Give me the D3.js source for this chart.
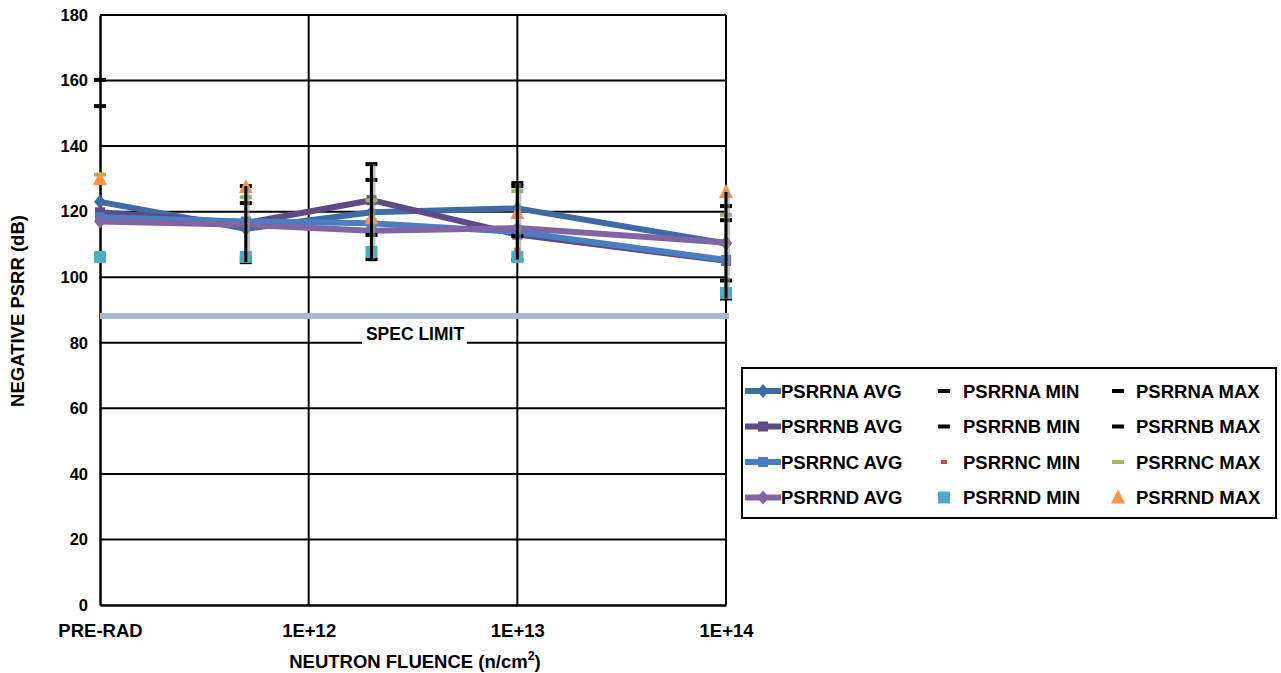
<!DOCTYPE html>
<html><head><meta charset="utf-8">
<script src="https://cdn.jsdelivr.net/npm/d3@7"></script>
<style>body{margin:0;background:#fff;} svg{display:block;font-family:"Liberation Sans",Arial,sans-serif;font-weight:bold;}</style>
</head><body>
<svg id="chart" width="1281" height="673"></svg>
<script>
// ---- data ----
const fluence = [1e11, 5e11, 2e12, 1e13, 1e14];
const xTickValues = [1e11, 1e12, 1e13, 1e14];
const xTickLabels = ["PRE-RAD", "1E+12", "1E+13", "1E+14"];
const yTickValues = [0, 20, 40, 60, 80, 100, 120, 140, 160, 180];

const psrrnaAvg = [123.0, 114.8, 119.8, 121.0, 110.3];
const psrrnbAvg = [119.8, 116.5, 123.5, 113.0, 105.0];
const psrrncAvg = [118.3, 117.0, 116.5, 113.8, 105.3];
const psrrndAvg = [117.0, 116.0, 114.2, 115.0, 110.6];

const psrrnaMin = [106.6, 104.6, 112.9, 112.6, 99.0];
const psrrnaMax = [160.2, 127.8, 134.5, 128.7, 121.7];
const psrrnbMin = [106.3, 106.0, 105.5, 105.4, 93.5];
const psrrnbMax = [152.2, 122.6, 129.7, 127.8, 117.4];
const psrrncMin = [106.4, 106.3, 107.6, 108.4, 95.4];
const psrrncMax = [131.3, 124.4, 123.5, 126.3, 119.0];
const psrrndMin = [106.2, 106.2, 107.7, 106.2, 95.2];
const psrrndMax = [130.0, 127.5, 118.0, 119.6, 126.0];

const specLimit = 88.2;

const avgSeries = [
  {name:"PSRRNA AVG", values:psrrnaAvg, color:"#3E6BA2", symbol:"diamond"},
  {name:"PSRRNB AVG", values:psrrnbAvg, color:"#5E4B85", symbol:"square"},
  {name:"PSRRNC AVG", values:psrrncAvg, color:"#4A7EC0", symbol:"square"},
  {name:"PSRRND AVG", values:psrrndAvg, color:"#8064A4", symbol:"diamond"}
];
const markerSeries = [
  {name:"PSRRNA MIN", values:psrrnaMin, color:"#000000", symbol:"dash"},
  {name:"PSRRNA MAX", values:psrrnaMax, color:"#000000", symbol:"dash"},
  {name:"PSRRNB MIN", values:psrrnbMin, color:"#000000", symbol:"dash"},
  {name:"PSRRNB MAX", values:psrrnbMax, color:"#000000", symbol:"dash"},
  {name:"PSRRNC MIN", values:psrrncMin, color:"#C0504D", symbol:"smalldash"},
  {name:"PSRRNC MAX", values:psrrncMax, color:"#9BBB59", symbol:"dash"},
  {name:"PSRRND MIN", values:psrrndMin, color:"#4BACC6", symbol:"bigsquare"},
  {name:"PSRRND MAX", values:psrrndMax, color:"#F79646", symbol:"triangle"}
];

// ---- layout ----
const svg = d3.select("#chart");
const L = 100, R = 726, T = 15, B = 605;
const x = d3.scaleLog().domain([1e11, 1e14]).range([L, R]);
const y = d3.scaleLinear().domain([0, 180]).range([B, T]);

// grid
const g = svg.append("g");
g.selectAll("line.h").data(yTickValues.filter(v => v > 0)).join("line")
  .attr("x1", L).attr("x2", R).attr("y1", d => y(d)).attr("y2", d => y(d))
  .attr("stroke", "#000").attr("stroke-width", 2);
g.selectAll("line.v").data(xTickValues.slice(1)).join("line")
  .attr("x1", d => x(d)).attr("x2", d => x(d)).attr("y1", T).attr("y2", B)
  .attr("stroke", "#000").attr("stroke-width", 2);

// axes
const yAxis = d3.axisLeft(y).tickValues(yTickValues).tickSize(0).tickPadding(12);
const ya = svg.append("g").attr("transform", `translate(${L},0)`).call(yAxis);
ya.select(".domain").attr("stroke", "#000").attr("stroke-width", 2.5);
ya.selectAll("text").attr("font-size", 16.5).attr("font-weight", "bold").attr("font-family", "Liberation Sans, Arial").attr("fill", "#000");

const xAxis = d3.axisBottom(x).tickValues(xTickValues).tickSize(0).tickPadding(19)
  .tickFormat((d, i) => xTickLabels[i]);
const xa = svg.append("g").attr("transform", `translate(0,${B})`).call(xAxis);
xa.select(".domain").attr("stroke", "#000").attr("stroke-width", 2.5);
xa.selectAll("text").attr("font-size", 18.5).attr("font-weight", "bold").attr("font-family", "Liberation Sans, Arial").attr("fill", "#000");

// spec limit
svg.append("line").attr("x1", L).attr("x2", R + 3).attr("y1", y(specLimit)).attr("y2", y(specLimit))
  .attr("stroke", "#A7B9D7").attr("stroke-width", 6);
svg.append("rect").attr("x", 362).attr("y", 322).attr("width", 105).attr("height", 24).attr("fill", "#fff");
svg.append("text").attr("x", 415).attr("y", 340).attr("text-anchor", "middle").attr("font-size", 17.5).text("SPEC LIMIT");

// avg lines
const line = d3.line().x((d, i) => x(fluence[i])).y(d => y(d));
avgSeries.forEach(s => {
  svg.append("path").datum(s.values).attr("d", line).attr("fill", "none")
    .attr("stroke", s.color).attr("stroke-width", 6).attr("stroke-linejoin", "round");
});

function drawSymbol(sel, sym, color) {
  if (sym === "diamond") sel.append("path").attr("d", "M0,-7L6,0L0,7L-6,0Z").attr("fill", color);
  else if (sym === "square") sel.append("rect").attr("x", -5).attr("y", -5).attr("width", 10).attr("height", 10).attr("fill", color);
  else if (sym === "bigsquare") sel.append("rect").attr("x", -6).attr("y", -6).attr("width", 12).attr("height", 12).attr("fill", color);
  else if (sym === "dash") sel.append("rect").attr("x", -6).attr("y", -2).attr("width", 12).attr("height", 4).attr("fill", color);
  else if (sym === "smalldash") sel.append("rect").attr("x", -3).attr("y", -2).attr("width", 6).attr("height", 4).attr("fill", color);
  else if (sym === "triangle") sel.append("path").attr("d", "M0,-8L7,6L-7,6Z").attr("fill", color);
}

avgSeries.forEach(s => {
  s.values.forEach((v, i) => {
    drawSymbol(svg.append("g").attr("transform", `translate(${x(fluence[i])},${y(v)})`), s.symbol, s.color);
  });
});
markerSeries.forEach(s => {
  s.values.forEach((v, i) => {
    drawSymbol(svg.append("g").attr("transform", `translate(${x(fluence[i])},${y(v)})`), s.symbol, s.color);
  });
});

// high-low lines across all series
const allSeries = avgSeries.concat(markerSeries);
fluence.forEach((f, i) => {
  const ext = d3.extent(allSeries, s => s.values[i]);
  if (i === 0) return;
  svg.append("line").attr("x1", x(f) + 1).attr("x2", x(f) + 1).attr("y1", y(ext[1])).attr("y2", y(ext[0]))
    .attr("stroke", "#9a9a9a").attr("stroke-width", 6).attr("opacity", 0.6);
  svg.append("line").attr("x1", x(f)).attr("x2", x(f)).attr("y1", y(ext[1])).attr("y2", y(ext[0]))
    .attr("stroke", "#000").attr("stroke-width", 3);
});

// axis titles
svg.append("text").attr("transform", "translate(24,311) rotate(-90)").attr("text-anchor", "middle")
  .attr("font-size", 18.5).text("NEGATIVE PSRR (dB)");
const xt = svg.append("text").attr("x", 415).attr("y", 668).attr("text-anchor", "middle").attr("font-size", 18.5);
xt.append("tspan").text("NEUTRON FLUENCE (n/cm");
xt.append("tspan").attr("dy", -8).attr("font-size", 12.5).text("2");
xt.append("tspan").attr("dy", 8).text(")");

// legend
const leg = svg.append("g");
leg.append("rect").attr("x", 742).attr("y", 368).attr("width", 534).attr("height", 150)
  .attr("fill", "#fff").attr("stroke", "#000").attr("stroke-width", 2);
const rowY = [391, 426.5, 462, 497.5];
avgSeries.forEach((s, r) => {
  leg.append("line").attr("x1", 745).attr("x2", 781).attr("y1", rowY[r]).attr("y2", rowY[r])
    .attr("stroke", s.color).attr("stroke-width", 6);
  drawSymbol(leg.append("g").attr("transform", `translate(763,${rowY[r]})`), s.symbol, s.color);
  leg.append("text").attr("x", 781).attr("y", rowY[r] + 6.5).attr("font-size", 18.5).text(s.name);
});
markerSeries.forEach((s, k) => {
  const r = Math.floor(k / 2), c = k % 2;
  const mx = c === 0 ? 944 : 1118, tx = c === 0 ? 963 : 1136;
  drawSymbol(leg.append("g").attr("transform", `translate(${mx},${rowY[r]})`), s.symbol, s.color);
  leg.append("text").attr("x", tx).attr("y", rowY[r] + 6.5).attr("font-size", 18.5).text(s.name);
});
</script>
</body></html>
